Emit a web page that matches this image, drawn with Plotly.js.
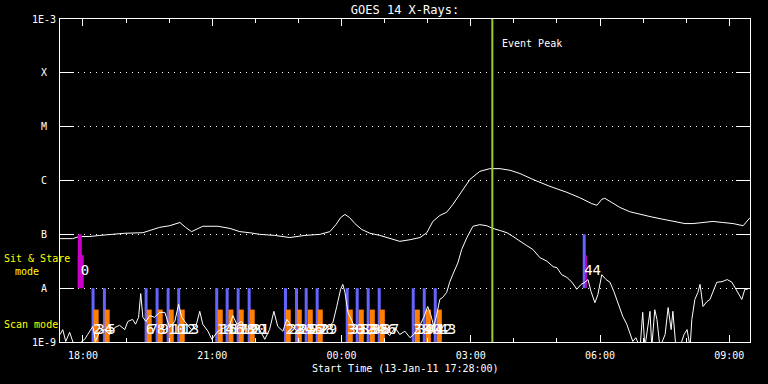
<!DOCTYPE html>
<html><head><meta charset="utf-8">
<script src="https://cdn.plot.ly/plotly-3.0.1.min.js"></script>
<style>html,body{margin:0;padding:0;background:#000;}#chart{width:768px;height:384px;}</style>
</head><body><div id="chart"></div>
<script>
// Times are hours after 2011-01-13 00:00 UT; fluxes are log10(W m^-2)
const startHour = 17 + 28/60;
const endHour = 33.48;
const eventPeakHour = 27.5;

const longTimes = [17.47,17.76,17.92,18.16,18.39,18.69,18.97,19.39,19.78,20.01,20.25,20.38,20.52,20.78,21.13,21.41,21.64,21.87,22.10,22.45,22.80,23.15,23.50,23.73,23.87,23.98,24.08,24.19,24.31,24.47,24.66,24.89,25.12,25.35,25.59,25.82,25.98,26.12,26.28,26.44,26.58,26.79,26.98,27.21,27.44,27.68,27.91,28.14,28.44,28.84,29.23,29.53,29.81,29.93,30.04,30.11,30.28,30.46,30.69,30.93,31.16,31.46,31.74,31.97,32.16,32.39,32.62,32.85,33.09,33.32,33.41,33.48];
const longFluxLog10 = [-7.08,-7.08,-7.04,-7.04,-7.02,-7.00,-6.98,-6.97,-6.87,-6.84,-6.78,-6.87,-6.95,-6.85,-6.85,-6.89,-6.95,-6.97,-7.00,-7.02,-7.06,-7.02,-7.00,-6.95,-6.82,-6.69,-6.63,-6.69,-6.80,-6.91,-6.98,-7.02,-7.08,-7.13,-7.10,-7.06,-6.97,-6.76,-6.65,-6.59,-6.45,-6.20,-5.98,-5.83,-5.78,-5.78,-5.81,-5.87,-5.98,-6.11,-6.22,-6.32,-6.43,-6.46,-6.35,-6.33,-6.41,-6.50,-6.58,-6.63,-6.67,-6.72,-6.76,-6.80,-6.80,-6.78,-6.76,-6.78,-6.80,-6.84,-6.76,-6.69];

const shortTimes = [17.47,17.53,17.60,17.69,17.81,17.88,17.97,18.04,18.11,18.23,18.29,18.39,18.50,18.62,18.74,18.85,18.97,19.04,19.15,19.22,19.29,19.34,19.39,19.46,19.55,19.66,19.78,19.90,20.01,20.13,20.22,20.29,20.41,20.52,20.62,20.71,20.78,20.90,20.99,21.13,21.29,21.41,21.48,21.57,21.68,21.80,21.92,22.10,22.22,22.33,22.43,22.52,22.64,22.73,22.85,22.98,23.12,23.26,23.40,23.54,23.68,23.80,23.89,23.98,24.03,24.08,24.15,24.22,24.31,24.42,24.54,24.66,24.77,24.89,25.00,25.12,25.24,25.35,25.47,25.59,25.70,25.82,25.91,26.00,26.07,26.14,26.21,26.28,26.35,26.44,26.51,26.58,26.70,26.79,26.91,27.05,27.21,27.37,27.51,27.68,27.84,27.98,28.14,28.30,28.44,28.60,28.77,28.91,29.00,29.11,29.23,29.35,29.46,29.56,29.65,29.72,29.79,29.88,29.95,30.04,30.14,30.23,30.32,30.41,30.48,30.53,30.62,30.69,30.76,30.83,30.93,30.99,31.04,31.16,31.20,31.27,31.32,31.39,31.51,31.58,31.65,31.69,31.76,31.85,31.95,32.02,32.09,32.13,32.20,32.27,32.32,32.39,32.48,32.55,32.62,32.71,32.83,32.95,33.06,33.13,33.20,33.29,33.36,33.43];
const shortFluxLog10 = [-8.86,-8.77,-8.99,-8.82,-9.1,-9.1,-8.99,-8.95,-8.86,-8.71,-8.99,-8.80,-8.77,-8.86,-8.73,-8.69,-8.77,-8.62,-8.58,-8.67,-8.54,-8.10,-8.54,-8.62,-8.51,-8.54,-8.45,-8.45,-8.73,-8.62,-8.30,-8.54,-8.67,-8.77,-8.71,-8.43,-8.67,-8.80,-8.95,-8.80,-8.73,-8.67,-8.51,-8.67,-8.62,-8.77,-8.69,-8.77,-8.95,-8.77,-8.43,-8.71,-8.80,-8.58,-8.71,-8.80,-8.73,-8.80,-8.77,-8.80,-8.73,-8.64,-8.34,-8.02,-7.93,-8.08,-8.45,-8.58,-8.73,-8.77,-8.73,-8.86,-8.67,-8.77,-8.80,-8.88,-8.73,-8.86,-8.80,-8.92,-8.84,-8.69,-8.54,-8.34,-8.49,-8.71,-8.49,-8.21,-8.17,-8.08,-7.89,-7.75,-7.53,-7.28,-7.06,-6.85,-6.82,-6.84,-6.89,-6.93,-6.97,-7.04,-7.13,-7.21,-7.28,-7.43,-7.50,-7.60,-7.62,-7.75,-7.80,-7.89,-8.02,-7.93,-7.89,-7.84,-8.06,-8.27,-8.12,-7.75,-7.84,-7.89,-8.06,-8.27,-8.40,-8.53,-8.67,-8.82,-8.99,-8.92,-9.1,-8.45,-9.1,-8.43,-9.1,-8.40,-8.58,-9.1,-8.86,-8.36,-8.77,-8.43,-9.1,-9.1,-8.86,-8.77,-9.1,-8.58,-8.21,-8.08,-7.93,-8.34,-8.25,-8.21,-8.08,-7.89,-7.88,-7.84,-7.89,-7.99,-8.08,-8.21,-8.02,-8.02];

// Scan-mode observations (blue and orange) and Sit & Stare observations
const scanBlueTimes = [18.234,18.497,19.465,19.720,19.976,20.222,21.104,21.346,21.601,21.857,22.699,22.955,23.180,23.435,24.132,24.364,24.619,24.875,25.664,25.920,26.175];
const scanBlueLabels = ['2','4','6','8','10','12','14','16','18','20','22','24','26','28','30','32','34','36','38','40','42'];
const scanOrangeTimes = [18.306,18.562,19.537,19.792,20.048,20.303,21.186,21.434,21.673,21.928,22.764,23.020,23.275,23.507,24.204,24.459,24.715,24.947,25.760,26.015,26.270];
const scanOrangeLabels = ['3','5','7','9','11','13','15','17','19','21','23','25','27','29','31','33','35','37','39','41','43'];
const sitTallTimes = [17.928];
const sitShortTimes = [17.947];
const sitLabels = ['0','44'];
const sitLabelTimes = [17.947, 29.632];
const lateBlueTimes = [29.632];
const lateMagentaTimes = [29.672];

const yTickVals = [1e-9,1e-8,1e-7,1e-6,1e-5,1e-4,1e-3];
const yTickText = ['1E-9','A','B','C','M','X','1E-3'];

const scanBlueTop = 1e-8, scanOrangeTop = 4e-9, scanBottom = 1e-9;
const sitTallTop = 1e-7, sitShortTop = 4.1e-8;
const scanLabelY = 1.67e-9, sitLabelY = 2.04e-8;

function toDate(h){
  const ms = Date.UTC(2011,0,13) + Math.round(h*3600000);
  return new Date(ms).toISOString().slice(0,19).replace('T',' ');
}
function segs(times, lo, hi){
  const x=[], y=[];
  times.forEach(t=>{ const d=toDate(t); x.push(d,d,null); y.push(lo,hi,null); });
  return {x,y};
}
const MONO = 'DejaVu Sans Mono';
const traces = [];
function barTrace(times, lo, hi, color, width){
  const s = segs(times, lo, hi);
  return {type:'scatter', mode:'lines', x:s.x, y:s.y, line:{color, width}, hoverinfo:'skip', showlegend:false};
}
traces.push(barTrace(scanBlueTimes, scanBottom, scanBlueTop, '#6464ff', 3));
traces.push(barTrace(scanOrangeTimes, scanBottom, scanOrangeTop, '#ff7f00', 5));
traces.push(barTrace(lateBlueTimes, scanBlueTop, sitTallTop, '#6464ff', 3));
traces.push(barTrace(lateMagentaTimes, scanBlueTop, sitShortTop, '#c800c8', 2));
traces.push({type:'scatter', mode:'lines', x:longTimes.map(toDate), y:longFluxLog10.map(v=>Math.pow(10,v)), line:{color:'#ffffff', width:1}, showlegend:false, hoverinfo:'skip'});
traces.push({type:'scatter', mode:'lines', x:shortTimes.map(toDate), y:shortFluxLog10.map(v=>Math.pow(10,v)), line:{color:'#ffffff', width:1}, showlegend:false, hoverinfo:'skip'});
traces.push(barTrace(sitTallTimes, scanBlueTop, sitTallTop, '#c800c8', 4));
traces.push(barTrace(sitShortTimes, scanBlueTop, sitShortTop, '#c800c8', 6));
const allScanTimes = scanBlueTimes.concat(scanOrangeTimes);
const allScanLabels = scanBlueLabels.concat(scanOrangeLabels);
traces.push({type:'scatter', mode:'text', x:allScanTimes.map(toDate), y:allScanTimes.map(()=>scanLabelY), text:allScanLabels, textposition:'middle right', textfont:{family:MONO, size:14, color:'#ffffff'}, showlegend:false, hoverinfo:'skip', cliponaxis:false});
traces.push({type:'scatter', mode:'text', x:sitLabelTimes.map(toDate), y:sitLabelTimes.map(()=>sitLabelY), text:sitLabels, textposition:'middle right', textfont:{family:MONO, size:14, color:'#ffffff'}, showlegend:false, hoverinfo:'skip', cliponaxis:false});
traces.push(barTrace([eventPeakHour], 1e-9, 1e-3, '#9acd32', 2));

const annotations = [];
yTickVals.forEach((v,i)=>annotations.push({xref:'paper', x:-0.0232, yref:'y', y:Math.log10(v), text:yTickText[i], showarrow:false, xanchor:'center', yanchor:'middle', font:{family:MONO, size:10, color:'#ffffff'}}));
annotations.push({xref:'x', x:toDate(eventPeakHour), xshift:8, yref:'paper', y:0.925, text:'Event Peak', showarrow:false, xanchor:'left', yanchor:'middle', font:{family:MONO, size:10, color:'#ffffff'}});
annotations.push({xref:'paper', x:-0.084, yref:'paper', y:0.2585, text:'Sit & Stare', showarrow:false, xanchor:'left', yanchor:'middle', font:{family:MONO, size:10, color:'#ffff00'}});
annotations.push({xref:'paper', x:-0.068, yref:'paper', y:0.2198, text:'mode', showarrow:false, xanchor:'left', yanchor:'middle', font:{family:MONO, size:10, color:'#ffff00'}});
annotations.push({xref:'paper', x:-0.084, yref:'paper', y:0.0557, text:'Scan mode', showarrow:false, xanchor:'left', yanchor:'middle', font:{family:MONO, size:10, color:'#ffff00'}});
annotations.push({xref:'paper', x:0.5, yref:'paper', y:-0.0805, text:'Start Time (13-Jan-11 17:28:00)', showarrow:false, xanchor:'center', yanchor:'middle', font:{family:MONO, size:10, color:'#ffffff'}});

const layout = {
  width:768, height:384,
  paper_bgcolor:'#000000', plot_bgcolor:'#000000',
  margin:{l:60, r:18, t:19, b:42},
  showlegend:false, hovermode:false,
  title:{text:'GOES 14 X-Rays:', font:{family:MONO, size:12, color:'#ffffff'}, x:0.5, xref:'paper', xanchor:'center', y:0.974, yref:'container', yanchor:'middle'},
  xaxis:{type:'date', range:[toDate(startHour), toDate(endHour)], tick0:toDate(18), dtick:3*3600000, tickformat:'%H:%M',
    ticks:'inside', ticklen:7, tickcolor:'#ffffff', tickwidth:1,
    minor:{dtick:3600000, ticks:'inside', ticklen:4, tickcolor:'#ffffff', tickwidth:1, showgrid:false},
    showgrid:false, zeroline:false, showline:true, linecolor:'#ffffff', linewidth:1, mirror:'ticks',
    tickfont:{family:MONO, size:10, color:'#ffffff'}, ticklabelstandoff:4},
  yaxis:{type:'log', range:[-9,-3], tickvals:yTickVals, showticklabels:false,
    ticks:'inside', ticklen:14, tickcolor:'#ffffff', tickwidth:1,
    showgrid:true, gridcolor:'#ffffff', gridwidth:1, griddash:'1px,5px',
    zeroline:false, showline:true, linecolor:'#ffffff', linewidth:1, mirror:'ticks'},
  annotations
};
Plotly.newPlot('chart', traces, layout, {staticPlot:true, displayModeBar:false});
</script>
</body></html>
